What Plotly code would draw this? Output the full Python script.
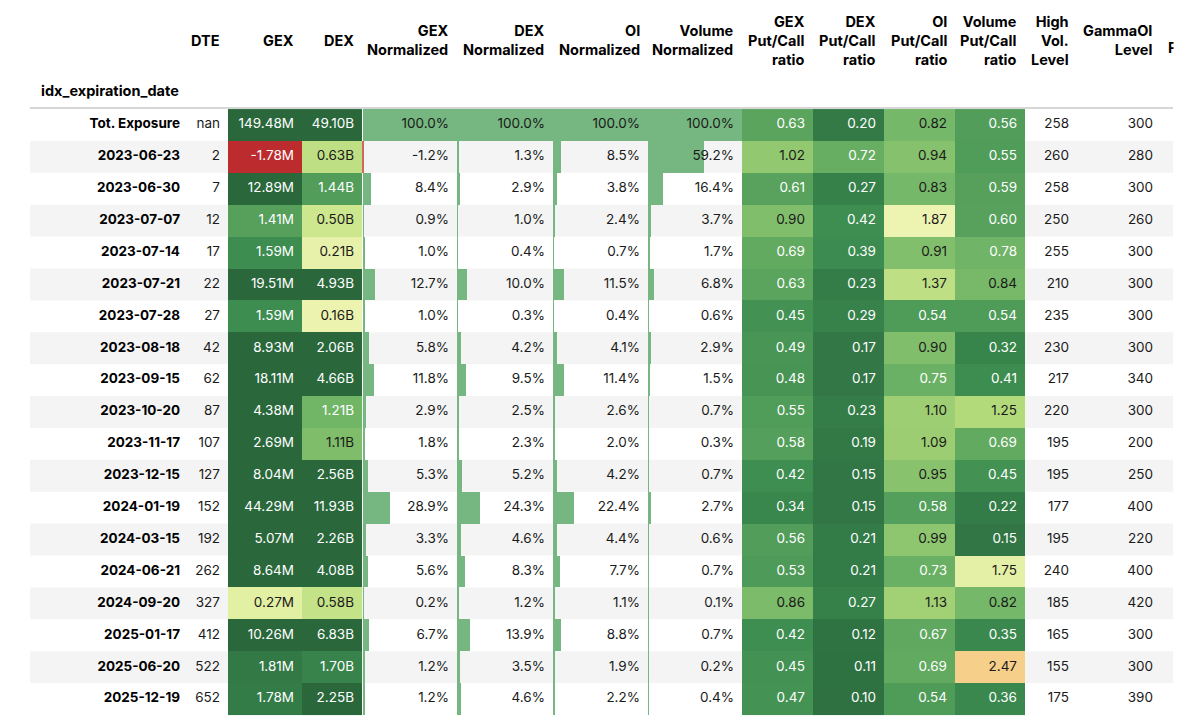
import math
import plotly.graph_objects as go
from plotly.colors import sample_colorscale, unlabel_rgb

# ---------------- data ----------------
index_name = "idx_expiration_date"
expiries = ["Tot. Exposure", "2023-06-23", "2023-06-30", "2023-07-07", "2023-07-14",
            "2023-07-21", "2023-07-28", "2023-08-18", "2023-09-15", "2023-10-20",
            "2023-11-17", "2023-12-15", "2024-01-19", "2024-03-15", "2024-06-21",
            "2024-09-20", "2025-01-17", "2025-06-20", "2025-12-19"]
dte = [float("nan"), 2, 7, 12, 17, 22, 27, 42, 62, 87, 107, 127, 152, 192, 262, 327, 412, 522, 652]
gex_m = [149.48, -1.78, 12.89, 1.41, 1.59, 19.51, 1.59, 8.93, 18.11, 4.38, 2.69, 8.04, 44.29,
         5.07, 8.64, 0.27, 10.26, 1.81, 1.78]
dex_b = [49.10, 0.63, 1.44, 0.50, 0.21, 4.93, 0.16, 2.06, 4.66, 1.21, 1.11, 2.56, 11.93,
         2.26, 4.08, 0.58, 6.83, 1.70, 2.25]
gex_norm = [100.0, -1.2, 8.4, 0.9, 1.0, 12.7, 1.0, 5.8, 11.8, 2.9, 1.8, 5.3, 28.9, 3.3, 5.6, 0.2, 6.7, 1.2, 1.2]
dex_norm = [100.0, 1.3, 2.9, 1.0, 0.4, 10.0, 0.3, 4.2, 9.5, 2.5, 2.3, 5.2, 24.3, 4.6, 8.3, 1.2, 13.9, 3.5, 4.6]
oi_norm = [100.0, 8.5, 3.8, 2.4, 0.7, 11.5, 0.4, 4.1, 11.4, 2.6, 2.0, 4.2, 22.4, 4.4, 7.7, 1.1, 8.8, 1.9, 2.2]
vol_norm = [100.0, 59.2, 16.4, 3.7, 1.7, 6.8, 0.6, 2.9, 1.5, 0.7, 0.3, 0.7, 2.7, 0.6, 0.7, 0.1, 0.7, 0.2, 0.4]
gex_pc = [0.63, 1.02, 0.61, 0.90, 0.69, 0.63, 0.45, 0.49, 0.48, 0.55, 0.58, 0.42, 0.34, 0.56, 0.53, 0.86, 0.42, 0.45, 0.47]
dex_pc = [0.20, 0.72, 0.27, 0.42, 0.39, 0.23, 0.29, 0.17, 0.17, 0.23, 0.19, 0.15, 0.15, 0.21, 0.21, 0.27, 0.12, 0.11, 0.10]
oi_pc = [0.82, 0.94, 0.83, 1.87, 0.91, 1.37, 0.54, 0.90, 0.75, 1.10, 1.09, 0.95, 0.58, 0.99, 0.73, 1.13, 0.67, 0.69, 0.54]
vol_pc = [0.56, 0.55, 0.59, 0.60, 0.78, 0.84, 0.54, 0.32, 0.41, 1.25, 0.69, 0.45, 0.22, 0.15, 1.75, 0.82, 0.35, 2.47, 0.36]
high_vol = [258, 260, 258, 250, 255, 210, 235, 230, 217, 220, 195, 195, 177, 195, 240, 185, 165, 155, 175]
gamma_oi = [300, 280, 300, 260, 300, 300, 300, 300, 340, 300, 200, 250, 400, 220, 400, 420, 300, 300, 390]

headers = {
    "DTE": "DTE", "GEX": "GEX", "DEX": "DEX",
    "GEXN": "GEX<br>Normalized", "DEXN": "DEX<br>Normalized",
    "OIN": "OI<br>Normalized", "VOLN": "Volume<br>Normalized",
    "GEXPC": "GEX<br>Put/Call<br>ratio", "DEXPC": "DEX<br>Put/Call<br>ratio",
    "OIPC": "OI<br>Put/Call<br>ratio", "VOLPC": "Volume<br>Put/Call<br>ratio",
    "HV": "High<br>Vol.<br>Level", "GOI": "GammaOI<br>Level",
}
cut_header = "P"

# ---------------- layout / style ----------------
WIN_W, WIN_H = 1200, 721
OFF_X, OFF_Y = 8, 6           # position of the figure inside the html page
W, H = WIN_W - 8, WIN_H - 8
ROW0_PX, ROW_PX = 123.0, 31.89
TABLE_L, TABLE_R = 30, 1173
PAD = 8
FONT = "Inter, 'Noto Sans', sans-serif"
FS = 13.5
FS_H = 14.5
TXT = "#1a1a1a"
STRIPE = "#f4f4f4"
BAR_POS, BAR_NEG = "#76b680", "#d3675f"

edges = {
    "IDX": (30, 188), "DTE": (188, 228), "GEX": (228, 302), "DEX": (302, 362),
    "GEXN": (362, 457), "DEXN": (457, 553), "OIN": (553, 648), "VOLN": (648, 742),
    "GEXPC": (742, 813), "DEXPC": (813, 884), "OIPC": (884, 955), "VOLPC": (955, 1025),
    "HV": (1025, 1077), "GOI": (1077, 1161),
}

CS = [[0.0, "rgb(170,30,45)"], [0.1, "rgb(203,55,48)"], [0.2, "rgb(233,118,78)"],
      [0.3, "rgb(245,176,108)"], [0.4, "rgb(246,213,144)"], [0.5, "rgb(247,247,190)"],
      [0.6, "rgb(216,236,150)"], [0.7, "rgb(172,214,118)"], [0.8, "rgb(114,182,104)"],
      [0.9, "rgb(60,140,80)"], [1.0, "rgb(42,104,60)"]]
CS_R = [[round(1 - s, 4), c] for s, c in reversed(CS)]


def py(p):
    return (p - ROW0_PX) / ROW_PX


def lum(rgb):
    r, g, b = [c / 255 for c in unlabel_rgb(rgb)]
    lin = [c / 12.92 if c <= 0.03928 else ((c + 0.055) / 1.055) ** 2.4 for c in (r, g, b)]
    return 0.2126 * lin[0] + 0.7152 * lin[1] + 0.0722 * lin[2]


LUM_THR = lum(sample_colorscale(CS, [0.794])[0])


def text_colors(vals, zmin, zmax, rev):
    out = []
    for v in vals:
        t = min(1, max(0, (v - zmin) / (zmax - zmin)))
        c = sample_colorscale(CS_R if rev else CS, [t])[0]
        out.append("white" if lum(c) < LUM_THR else TXT)
    return out


rows = list(range(len(expiries)))
n = len(rows)
fig = go.Figure()

# coloured (gradient) columns
grad_cols = [
    ("GEX", gex_m, -2, 2, False, "{:.2f}M"),
    ("DEX", dex_b, -2, 2, False, "{:.2f}B"),
    ("GEXPC", gex_pc, 0, 4, True, "{:.2f}"),
    ("DEXPC", dex_pc, 0, 4, True, "{:.2f}"),
    ("OIPC", oi_pc, 0, 4, True, "{:.2f}"),
    ("VOLPC", vol_pc, 0, 4, True, "{:.2f}"),
]
for key, vals, zmin, zmax, rev, fmt in grad_cols:
    l, r = edges[key]
    fig.add_trace(go.Heatmap(x=[l, r], y=rows, z=[[v] for v in vals], zmin=zmin, zmax=zmax,
                             colorscale=CS_R if rev else CS, showscale=False,
                             hoverinfo="skip", xaxis="x", yaxis="y"))

# bar columns, each on its own x axis
bar_cols = [("GEXN", gex_norm), ("DEXN", dex_norm), ("OIN", oi_norm), ("VOLN", vol_norm)]
axes_layout = {}
for k, (key, vals) in enumerate(bar_cols):
    ax = f"x{k + 2}"
    l, r = edges[key]
    lo, hi = min(0, min(vals)), max(vals)
    axes_layout[f"xaxis{k + 2}"] = dict(domain=[(l - OFF_X) / W, (r - OFF_X) / W], range=[lo, hi],
                                         visible=False, anchor="y", fixedrange=True)
    fig.add_trace(go.Bar(y=rows, x=vals, orientation="h", width=1,
                         marker=dict(color=[BAR_NEG if v < 0 else BAR_POS for v in vals], line_width=0),
                         hoverinfo="skip", xaxis=ax, yaxis="y"))
    xt = hi - PAD * (hi - lo) / (r - l)
    fig.add_trace(go.Scatter(x=[xt] * n, y=rows, mode="text", text=[f"{v:.1f}%" for v in vals],
                             textposition="middle left", cliponaxis=False,
                             textfont=dict(family=FONT, size=FS, color=TXT),
                             hoverinfo="skip", xaxis=ax, yaxis="y"))

# text on main axis
for key, vals, zmin, zmax, rev, fmt in grad_cols:
    fig.add_trace(go.Scatter(x=[edges[key][1] - PAD] * n, y=rows, mode="text",
                             text=[fmt.format(v) for v in vals], textposition="middle left",
                             textfont=dict(family=FONT, size=FS, color=text_colors(vals, zmin, zmax, rev)),
                             hoverinfo="skip", cliponaxis=False, xaxis="x", yaxis="y"))

plain_cols = [
    ("DTE", ["nan" if (isinstance(v, float) and math.isnan(v)) else str(v) for v in dte]),
    ("HV", [str(v) for v in high_vol]),
    ("GOI", [str(v) for v in gamma_oi]),
]
for key, txt in plain_cols:
    fig.add_trace(go.Scatter(x=[edges[key][1] - PAD] * n, y=rows, mode="text", text=txt,
                             textposition="middle left",
                             textfont=dict(family=FONT, size=FS, color=TXT),
                             hoverinfo="skip", cliponaxis=False, xaxis="x", yaxis="y"))

# index labels
fig.add_trace(go.Scatter(x=[edges["IDX"][1] - PAD] * n, y=rows, mode="text", text=expiries,
                         textposition="middle left",
                         textfont=dict(family=FONT, size=FS, color="#000", weight=700),
                         hoverinfo="skip", cliponaxis=False, xaxis="x", yaxis="y"))

# partially cut header of the next column
fig.add_trace(go.Scatter(x=[1168], y=[py(47)], mode="text", text=[cut_header],
                         textposition="middle right",
                         textfont=dict(family=FONT, size=FS_H, color="#000", weight=700),
                         hoverinfo="skip", cliponaxis=False, xaxis="x", yaxis="y"))

shapes = []
for i in rows:
    if i % 2 == 1:
        shapes.append(dict(type="rect", xref="x", yref="y", x0=TABLE_L, x1=TABLE_R,
                           y0=i - 0.5, y1=i + 0.5, fillcolor=STRIPE, line_width=0, layer="below"))
shapes.append(dict(type="line", xref="x", yref="y", x0=TABLE_L, x1=TABLE_R, y0=py(106), y1=py(106),
                   line=dict(color="#c9c9c9", width=1.5), layer="below"))
shapes.append(dict(type="rect", xref="x", yref="paper", x0=TABLE_R + 0.5, x1=WIN_W, y0=0, y1=1,
                   fillcolor="white", line_width=0, layer="above"))

annotations = []
for key, label in headers.items():
    annotations.append(dict(x=edges[key][1] - PAD + 2, y=py(38), xref="x", yref="y", text=label,
                            showarrow=False, xanchor="right", yanchor="middle", align="right",
                            font=dict(family=FONT, size=FS_H, color="#000", weight=700)))
annotations.append(dict(x=edges["IDX"][1] - PAD + 1, y=py(88), xref="x", yref="y", text=index_name,
                        showarrow=False, xanchor="right", yanchor="middle", align="right",
                        font=dict(family=FONT, size=FS_H, color="#000", weight=700)))

fig.update_layout(
    width=W, height=H, autosize=False, template=None,
    margin=dict(l=0, r=0, t=0, b=0, pad=0),
    paper_bgcolor="white", plot_bgcolor="rgba(0,0,0,0)",
    showlegend=False, bargap=0,
    xaxis=dict(domain=[0, 1], range=[OFF_X, OFF_X + W], visible=False, fixedrange=True),
    yaxis=dict(domain=[0, 1], range=[py(OFF_Y + H), py(OFF_Y)], visible=False, fixedrange=True),
    shapes=shapes, annotations=annotations,
    **axes_layout,
)

fig.write_html("out.html")
